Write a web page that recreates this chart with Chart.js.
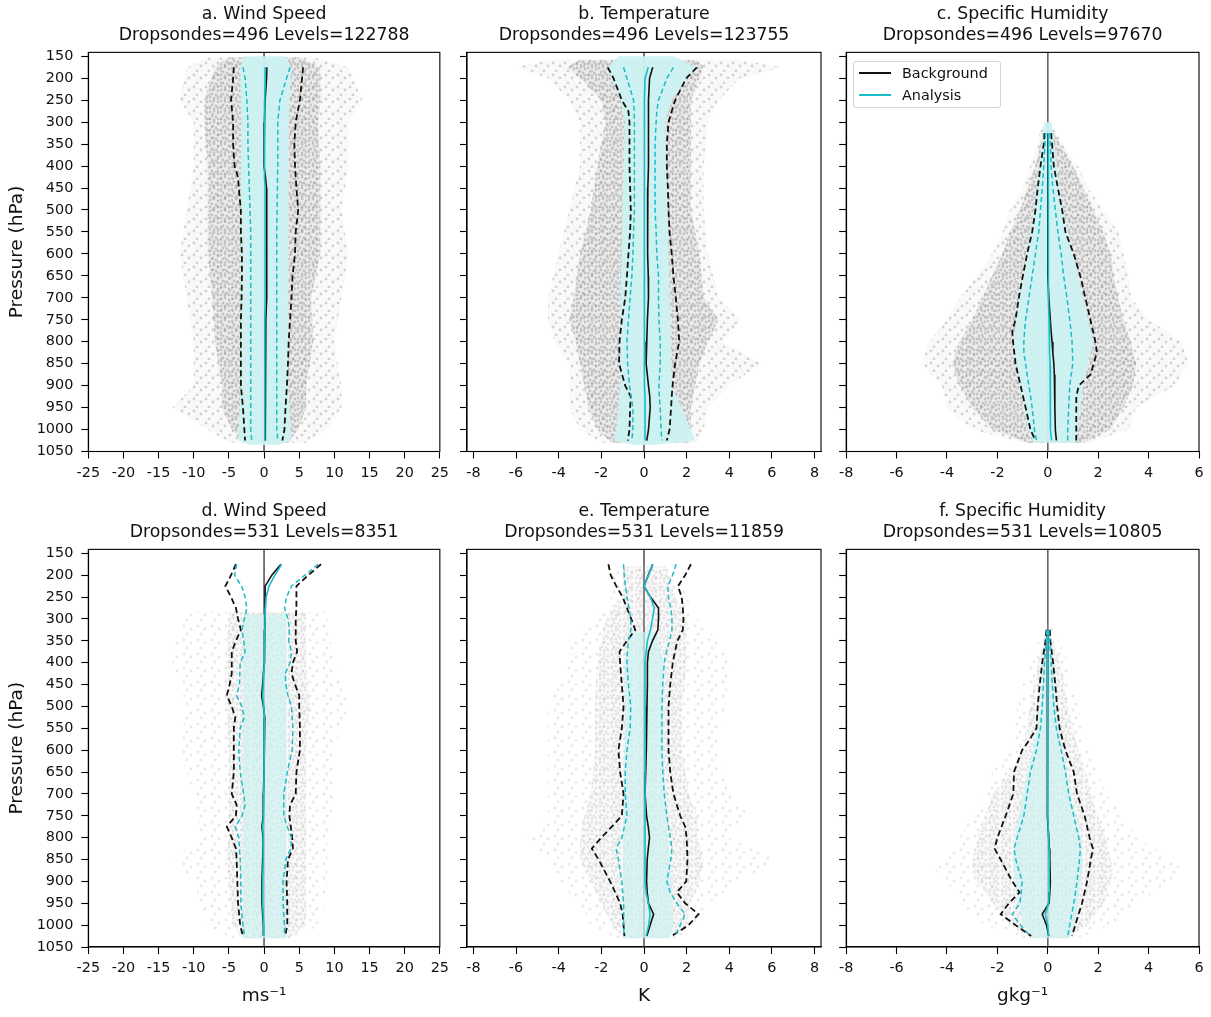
<!DOCTYPE html>
<html>
<head>
<meta charset="utf-8">
<script src="https://cdn.jsdelivr.net/npm/chart.js@4.4.1/dist/chart.umd.min.js"></script>
<style>
  body { margin: 0; background: #fff; }
  #wrap { position: relative; width: 1211px; height: 1017px; overflow: hidden; background: #fff; }
  #wrap canvas { position: absolute; }
  #legend { position: absolute; left: 853px; top: 61px; width: 146px; height: 45px; border: 1px solid #d4d4d4; border-radius: 3px; background: rgba(255,255,255,0.85); font: 14.4px 'DejaVu Sans'; color: #111; z-index: 5; }
  #legend .row { position: absolute; left: 0; height: 20px; width: 140px; }
  #legend .sw { position: absolute; left: 5px; top: 9px; width: 32px; height: 2px; }
  #legend .lt { position: absolute; left: 48px; top: 0; line-height: 20px; }
</style>
</head>
<body>
<div id="wrap">
  <canvas id="pa"></canvas><canvas id="pb"></canvas><canvas id="pc"></canvas>
  <canvas id="pd"></canvas><canvas id="pe"></canvas><canvas id="pf"></canvas>
  <div id="legend">
    <div class="row" style="top:1px"><span class="sw" style="background:#111"></span><span class="lt">Background</span></div>
    <div class="row" style="top:23px"><span class="sw" style="background:#1cbcc8"></span><span class="lt">Analysis</span></div>
  </div>
</div>
<script>
// axis ticks
const yTicks = [150, 200, 250, 300, 350, 400, 450, 500, 550, 600, 650, 700, 750, 800, 850, 900, 950, 1000, 1050];
const windTicks = [-25, -20, -15, -10, -5, 0, 5, 10, 15, 20, 25];
const tempTicks = [-8, -6, -4, -2, 0, 2, 4, 6, 8];
const humTicks = [-8, -6, -4, -2, 0, 2, 4, 6];

const panelNames = ['a. Wind Speed', 'b. Temperature', 'c. Specific Humidity', 'd. Wind Speed', 'e. Temperature', 'f. Specific Humidity'];
const sondeCounts = [496, 496, 496, 531, 531, 531];
const levelCounts = [122788, 123755, 97670, 8351, 11859, 10805];

// ---- panel a
const levA = [175, 200, 250, 300, 350, 400, 425, 450, 500, 550, 600, 650, 700, 750, 800, 850, 900, 950, 1000, 1025];
const bgMeanA = [0.4, 0.35, 0.15, 0.05, 0.0, 0.0, 0.2, 0.35, 0.4, 0.4, 0.4, 0.4, 0.3, 0.25, 0.15, 0.15, 0.15, 0.2, 0.25, 0.15];
const anMeanA = [0.2, 0.15, 0.1, 0.05, 0.05, 0.05, 0.1, 0.15, 0.15, 0.15, 0.15, 0.15, 0.15, 0.1, 0.1, 0.1, 0.1, 0.1, 0.1, 0.1];
const bgLoA = [-4.3, -4.4, -4.7, -4.4, -4.4, -4.2, -3.7, -3.6, -3.3, -3.3, -3.15, -3.15, -3.2, -3.3, -3.3, -3.3, -3.3, -3.0, -2.8, -2.7];
const bgHiA = [5.55, 5.4, 5.1, 4.5, 4.3, 4.4, 4.5, 4.6, 4.85, 4.5, 4.4, 4.05, 3.9, 3.7, 3.5, 3.4, 3.25, 3.05, 2.9, 2.6];
const anLoA = [-3.0, -2.7, -2.45, -2.3, -2.3, -2.2, -2.15, -2.1, -2.0, -1.9, -1.9, -1.9, -1.9, -1.9, -1.9, -1.9, -1.9, -1.9, -1.9, -1.75];
const anHiA = [3.7, 3.2, 2.25, 1.95, 1.95, 1.95, 1.9, 1.9, 1.85, 1.8, 1.8, 1.8, 1.8, 1.8, 1.8, 1.8, 1.8, 1.8, 1.8, 1.95];
const cloudPA = [152, 175, 250, 300, 400, 500, 600, 700, 800, 900, 950, 1000, 1030];
const outLoA = [-8, -11, -12, -10, -10, -11, -12, -11, -10, -10, -13, -8, -5];
const outHiA = [7, 12, 14, 12, 12, 11, 12, 11, 10, 11, 11, 9, 6];
const coreLoA = [-5, -7, -8.5, -8.5, -8, -8, -8, -7.4, -7, -6, -6, -4.6, -3];
const coreHiA = [5, 8, 8, 7.7, 8, 8, 8, 6.7, 7, 6, 6, 4.8, 3.5];
const bandPA = [150, 175, 300, 500, 700, 900, 1000, 1025, 1035];
const bandLoA = [-2.8, -3.4, -3.2, -3.3, -3.3, -3.3, -3.6, -3.6, -2];
const bandHiA = [3.0, 3.9, 3.5, 3.5, 3.4, 3.4, 3.8, 3.8, 2];

// ---- panel b
const levB = [175, 200, 250, 275, 300, 350, 400, 450, 500, 550, 600, 650, 700, 750, 800, 850, 900, 925, 950, 1000, 1025];
const bgMeanB = [0.41, 0.26, 0.21, 0.21, 0.21, 0.21, 0.21, 0.18, 0.16, 0.17, 0.18, 0.2, 0.21, 0.16, 0.13, 0.1, 0.21, 0.27, 0.29, 0.21, 0.13];
const anMeanB = [0.2, 0.05, 0.02, 0.02, 0.02, 0.02, 0.02, 0.02, 0.02, 0.02, 0.02, 0.02, 0.02, 0.02, 0.02, 0.02, 0.02, 0.05, 0.05, 0.05, 0.05];
const bgLoB = [-1.7, -1.43, -1.04, -0.73, -0.68, -0.68, -0.68, -0.65, -0.62, -0.65, -0.73, -0.8, -0.88, -1.04, -1.15, -1.17, -0.88, -0.62, -0.65, -0.68, -0.76];
const bgHiB = [2.48, 1.98, 1.46, 1.3, 1.15, 1.07, 1.07, 1.12, 1.15, 1.2, 1.3, 1.38, 1.49, 1.59, 1.65, 1.46, 1.34, 1.3, 1.27, 1.2, 1.07];
const anLoB = [-0.96, -0.8, -0.49, -0.46, -0.45, -0.45, -0.45, -0.45, -0.45, -0.49, -0.52, -0.57, -0.65, -0.73, -0.8, -0.77, -0.68, -0.6, -0.52, -0.52, -0.57];
const anHiB = [1.38, 1.07, 0.68, 0.6, 0.57, 0.52, 0.52, 0.52, 0.52, 0.57, 0.6, 0.68, 0.68, 0.7, 0.76, 0.76, 0.7, 0.72, 0.76, 0.8, 0.84];
const cloudPB = [158, 175, 200, 250, 300, 400, 500, 600, 700, 750, 800, 850, 900, 950, 1000, 1030];
const outLoB = [-4.5, -6, -4.5, -3.5, -3, -3, -3.5, -4, -4.5, -4.5, -4.2, -3.5, -3.5, -3.5, -3, -2];
const outHiB = [4.5, 6.5, 4.5, 3.5, 3, 2.8, 2.8, 3, 3.5, 4.5, 3.7, 5.5, 4, 3, 2.8, 2.5];
const coreLoB = [-3, -3.6, -3, -2, -1.8, -2.2, -2.5, -3, -3.3, -3.5, -3.2, -3, -2.8, -2.6, -2.2, -1.5];
const coreHiB = [2.5, 2.8, 2.6, 2.2, 2.2, 2.2, 2.2, 2.6, 2.8, 3.5, 3, 2.6, 2.4, 2.2, 2.2, 2];
const bandPB = [150, 175, 250, 300, 500, 700, 900, 1000, 1025, 1035];
const bandLoB = [-1.2, -1.7, -1.1, -0.9, -1.0, -1.1, -1.1, -1.3, -1.4, -0.5];
const bandHiB = [1.4, 2.4, 1.3, 1.0, 1.1, 1.2, 1.3, 2.2, 2.4, 0.5];

// ---- panel c
const levC = [325, 350, 400, 450, 500, 550, 600, 650, 700, 750, 775, 800, 825, 850, 875, 900, 925, 950, 1000, 1025];
const bgMeanC = [0, 0, 0, 0, 0, 0, 0, 0, 0.04, 0.1, 0.13, 0.17, 0.2, 0.24, 0.26, 0.28, 0.28, 0.28, 0.3, 0.34];
const anMeanC = [0.02, 0.02, 0.02, 0.02, 0.02, 0.02, 0.02, 0.03, 0.04, 0.05, 0.06, 0.07, 0.08, 0.09, 0.1, 0.1, 0.1, 0.1, 0.12, 0.15];
const bgLoC = [-0.13, -0.16, -0.29, -0.4, -0.49, -0.62, -0.82, -0.99, -1.15, -1.28, -1.41, -1.38, -1.33, -1.28, -1.18, -1.08, -0.98, -0.88, -0.69, -0.49];
const bgHiC = [0.13, 0.17, 0.24, 0.4, 0.57, 0.7, 1.03, 1.29, 1.49, 1.69, 1.79, 1.89, 1.95, 1.82, 1.69, 1.23, 1.13, 1.13, 1.13, 1.13];
const anLoC = [-0.09, -0.11, -0.16, -0.22, -0.29, -0.36, -0.49, -0.62, -0.75, -0.88, -0.92, -0.95, -0.95, -0.88, -0.82, -0.75, -0.68, -0.62, -0.53, -0.45];
const anHiC = [0.08, 0.1, 0.13, 0.2, 0.3, 0.4, 0.53, 0.63, 0.76, 0.87, 0.92, 0.96, 0.98, 0.99, 0.93, 0.87, 0.85, 0.83, 0.79, 0.79];
const cloudPC = [300, 320, 350, 400, 450, 500, 550, 600, 650, 700, 750, 800, 850, 900, 950, 1000, 1030];
const outLoC = [-0.1, -0.3, -0.4, -0.7, -1, -1.5, -1.8, -2.2, -2.8, -3.5, -4, -4.7, -5, -4.2, -4, -3, -1];
const outHiC = [0.1, 0.3, 0.6, 1.2, 1.6, 2.2, 2.8, 3, 3.2, 3.3, 4, 5.3, 5.6, 5, 3.5, 3.2, 1.6];
const coreLoC = [0, -0.2, -0.3, -0.5, -0.8, -1.1, -1.5, -1.8, -2.2, -2.6, -3, -3.5, -3.8, -3.5, -3, -2.2, -0.8];
const coreHiC = [0, 0.2, 0.5, 1, 1.4, 1.8, 2.2, 2.5, 2.6, 2.8, 3, 3.3, 3.5, 3.4, 3, 2.5, 1.4];
const bandPC = [300, 325, 400, 500, 600, 700, 800, 900, 1000, 1030];
const bandLoC = [-0.15, -0.2, -0.35, -0.55, -0.85, -1.15, -1.35, -1.1, -0.8, -0.5];
const bandHiC = [0.15, 0.2, 0.35, 0.6, 1.0, 1.4, 1.8, 1.4, 1.2, 1.1];

// ---- panel d
const levD = [175, 200, 225, 250, 275, 300, 325, 350, 375, 400, 425, 450, 475, 500, 525, 550, 600, 650, 700, 725, 750, 775, 800, 825, 850, 900, 950, 1000, 1025];
const bgMeanD = [2.4, 1.1, 0.15, 0.15, 0.15, 0.15, 0.1, 0.1, 0.05, 0, -0.1, -0.2, -0.35, -0.1, 0.1, 0, 0, 0, -0.1, -0.1, -0.15, -0.3, -0.15, -0.15, -0.2, -0.3, -0.3, -0.1, -0.1];
const anMeanD = [2.5, 1.55, 0.7, 0.3, 0.2, 0.15, 0.1, 0.1, 0.05, 0, -0.05, -0.1, -0.2, -0.05, 0.05, 0, 0, 0, -0.05, -0.05, -0.1, -0.2, -0.1, -0.1, -0.15, -0.2, -0.2, -0.05, -0.05];
const bgLoD = [-4.0, -4.7, -5.5, -4.7, -4.0, -3.7, -3.3, -4.0, -4.6, -4.6, -4.6, -4.9, -5.3, -4.6, -4.1, -4.3, -4.3, -4.3, -4.6, -3.9, -4.0, -5.3, -4.6, -4.0, -3.9, -3.8, -3.7, -3.4, -3.0];
const bgHiD = [8.1, 6.3, 4.6, 4.6, 4.6, 4.5, 4.5, 4.5, 4.7, 4.1, 3.9, 4.4, 5.0, 5.0, 5.05, 5.1, 5.1, 4.6, 4.5, 3.7, 3.6, 3.8, 4.0, 4.1, 3.4, 3.2, 3.3, 3.3, 3.0];
const anLoD = [-3.9, -4.2, -3.2, -2.7, -2.45, -2.8, -3.15, -2.9, -2.7, -3.4, -3.45, -3.5, -3.9, -3.2, -2.8, -3.4, -3.6, -3.4, -2.9, -2.7, -3.15, -4.1, -3.6, -3.5, -3.4, -3.3, -3.3, -3.0, -2.8];
const anHiD = [7.7, 5.8, 3.9, 3.2, 2.9, 3.4, 3.6, 3.5, 3.9, 3.7, 3.0, 3.1, 3.4, 3.9, 4.0, 4.1, 4.0, 3.3, 2.8, 2.8, 2.8, 3.3, 3.9, 3.8, 3.1, 2.7, 2.7, 2.9, 2.9];
const cloudPD = [285, 300, 400, 500, 600, 700, 800, 850, 900, 1000, 1030];
const outLoD = [-10, -12, -13, -11, -12, -10, -9, -13, -10, -8, -5];
const outHiD = [9, 9, 10, 12, 10, 10, 9, 9, 9, 8, 4];
const coreLoD = [-5, -5, -5.5, -5.5, -5, -5, -5, -5.5, -5, -4.5, -3];
const coreHiD = [6, 6, 6, 6.5, 6, 6, 6, 6, 6, 6, 3.5];
const bandPD = [290, 1030];
const bandLoD = [-3.0, -3.0];
const bandHiD = [3.2, 3.2];

// ---- panel e
const levE = [175, 200, 225, 250, 275, 300, 325, 350, 375, 400, 450, 500, 550, 600, 650, 700, 750, 775, 800, 825, 850, 900, 925, 950, 975, 1000, 1025];
const bgMeanE = [0.41, 0.2, 0.0, 0.3, 0.68, 0.68, 0.65, 0.4, 0.21, 0.16, 0.16, 0.14, 0.12, 0.1, 0.08, 0.05, 0.12, 0.2, 0.26, 0.2, 0.15, 0.12, 0.15, 0.21, 0.45, 0.29, 0.13];
const anMeanE = [0.4, 0.2, 0.0, 0.3, 0.48, 0.4, 0.3, 0.16, 0.1, 0.05, 0.05, 0.05, 0.05, 0.05, 0.05, 0.05, 0.05, 0.05, 0.05, 0.05, 0.05, 0.05, 0.1, 0.2, 0.29, 0.22, 0.1];
const bgLoE = [-1.67, -1.56, -1.3, -1.0, -0.8, -0.6, -0.41, -0.8, -1.15, -1.12, -1.04, -0.96, -1.04, -1.2, -1.12, -0.96, -1.04, -1.51, -2.0, -2.45, -2.13, -1.59, -1.35, -1.12, -1.0, -0.96, -0.92];
const bgHiE = [2.2, 1.93, 1.59, 1.77, 1.82, 1.85, 1.82, 1.57, 1.45, 1.35, 1.23, 1.15, 1.15, 1.15, 1.23, 1.38, 1.7, 1.93, 2.0, 2.02, 2.04, 1.98, 1.54, 1.93, 2.56, 2.09, 1.3];
const anLoE = [-0.96, -0.93, -0.87, -0.8, -0.7, -0.62, -0.62, -0.73, -0.78, -0.8, -0.73, -0.62, -0.65, -0.8, -0.88, -0.88, -0.8, -0.92, -1.04, -1.31, -1.2, -1.04, -1.0, -0.96, -0.95, -0.96, -0.93];
const anHiE = [1.51, 1.34, 1.12, 1.15, 1.25, 1.31, 1.31, 1.2, 1.05, 0.95, 0.88, 0.84, 0.84, 0.84, 0.88, 0.95, 1.07, 1.15, 1.23, 1.31, 1.26, 1.07, 1.23, 1.54, 1.93, 1.7, 1.46];
const cloudPE = [180, 250, 300, 350, 400, 500, 600, 700, 750, 800, 850, 900, 950, 1000, 1030];
const outLoE = [-1.5, -1.5, -2.5, -3.5, -3.5, -4.5, -4.5, -4.5, -4.5, -5.5, -4.5, -4, -3, -2.5, -1.5];
const outHiE = [1.5, 2, 2.5, 3.5, 4, 3.8, 3.5, 4, 5, 4, 6.2, 4.5, 3, 2.5, 1.5];
const coreLoE = [-1, -1, -1.8, -2, -2.2, -2.3, -2.3, -2.5, -2.8, -3, -3, -2.5, -2, -1.5, -1];
const coreHiE = [1, 1.5, 2, 2, 2, 1.8, 1.8, 2.1, 2.5, 2.5, 2.8, 2.6, 2.2, 2, 1.2];
const bandPE = [330, 400, 600, 800, 900, 1000, 1030];
const bandLoE = [-0.6, -0.9, -0.9, -1.0, -1.0, -1.0, -0.9];
const bandHiE = [0.6, 0.9, 0.9, 1.1, 1.3, 1.4, 1.2];

// ---- panel f
const levF = [325, 350, 400, 450, 500, 550, 575, 600, 650, 700, 750, 800, 825, 850, 900, 925, 950, 975, 1000, 1025];
const bgMeanF = [0, 0, 0, -0.02, -0.02, -0.02, -0.02, -0.02, -0.02, -0.02, -0.03, 0.04, 0.06, 0.08, 0.1, 0.08, 0.05, -0.22, -0.05, 0.04];
const anMeanF = [0, 0, 0, 0, 0, 0, 0, 0, 0, 0, 0, 0.03, 0.05, 0.05, 0.07, 0.05, 0.03, -0.1, 0, 0.03];
const bgLoF = [-0.05, -0.09, -0.22, -0.32, -0.4, -0.45, -0.71, -1.02, -1.34, -1.37, -1.67, -2.0, -2.11, -1.87, -1.41, -1.12, -1.54, -1.87, -1.28, -0.66];
const bgHiF = [0.08, 0.1, 0.21, 0.3, 0.37, 0.47, 0.58, 0.7, 1.03, 1.16, 1.46, 1.66, 1.79, 1.71, 1.56, 1.46, 1.36, 1.22, 1.09, 0.96];
const anLoF = [-0.03, -0.06, -0.13, -0.17, -0.22, -0.29, -0.37, -0.45, -0.69, -0.82, -0.95, -1.21, -1.34, -1.27, -1.02, -1.05, -1.11, -1.41, -1.08, -0.69];
const anHiF = [0.04, 0.07, 0.13, 0.18, 0.24, 0.34, 0.43, 0.53, 0.7, 0.83, 1.03, 1.23, 1.29, 1.26, 1.16, 1.1, 1.03, 0.95, 0.87, 0.79];
const cloudPF = [310, 330, 400, 500, 600, 650, 700, 750, 800, 850, 875, 900, 950, 1000, 1030];
const outLoF = [0, -0.2, -0.8, -1.2, -1.5, -2.2, -2.5, -3, -3.5, -4, -4.5, -4, -3.5, -2.5, -1];
const outHiF = [0, 0.3, 0.8, 1.2, 1.6, 2, 2.3, 3, 3.5, 5, 5.3, 5, 3.5, 2.5, 1.2];
const coreLoF = [0, -0.1, -0.4, -0.7, -1, -1.5, -2.2, -2.5, -2.8, -3, -3, -2.8, -2.2, -1.5, -0.7];
const coreHiF = [0, 0.1, 0.5, 0.8, 1.2, 1.5, 1.7, 2, 2.3, 2.5, 2.6, 2.5, 2.2, 1.6, 0.8];
const bandPF = [330, 400, 500, 600, 700, 800, 850, 900, 1000, 1030];
const bandLoF = [-0.1, -0.2, -0.3, -0.6, -1.0, -1.3, -1.4, -1.3, -1.0, -0.5];
const bandHiF = [0.1, 0.25, 0.35, 0.6, 0.9, 1.3, 1.4, 1.3, 1.1, 0.8];

const CYAN = '#1cbcc8';
const INK = '#111';
const FONT = "'DejaVu Sans'";

const panels = [
  { id: 'pa', left: 0, top: 0, w: 455, h: 497, yw: 88.3, xh: 45.5, xmin: -25, xmax: 25, xt: windTicks, ylab: true, xlab: '', topRow: true,
    lev: levA, bgMean: bgMeanA, anMean: anMeanA, bgLo: bgLoA, bgHi: bgHiA, anLo: anLoA, anHi: anHiA,
    cloudP: cloudPA, outLo: outLoA, outHi: outHiA, coreLo: coreLoA, coreHi: coreHiA, bandP: bandPA, bandLo: bandLoA, bandHi: bandHiA },
  { id: 'pb', left: 455, top: 0, w: 378, h: 497, yw: 12, xh: 45.5, xmin: -8.3, xmax: 8.3, xt: tempTicks, ylab: false, xlab: '', topRow: true,
    lev: levB, bgMean: bgMeanB, anMean: anMeanB, bgLo: bgLoB, bgHi: bgHiB, anLo: anLoB, anHi: anHiB,
    cloudP: cloudPB, outLo: outLoB, outHi: outHiB, coreLo: coreLoB, coreHi: coreHiB, bandP: bandPB, bandLo: bandLoB, bandHi: bandHiB },
  { id: 'pc', left: 833, top: 0, w: 378, h: 497, yw: 12, xh: 45.5, xmin: -8, xmax: 6, xt: humTicks, ylab: false, xlab: '', topRow: true,
    lev: levC, bgMean: bgMeanC, anMean: anMeanC, bgLo: bgLoC, bgHi: bgHiC, anLo: anLoC, anHi: anHiC,
    cloudP: cloudPC, outLo: outLoC, outHi: outHiC, coreLo: coreLoC, coreHi: coreHiC, bandP: bandPC, bandLo: bandLoC, bandHi: bandHiC },
  { id: 'pd', left: 0, top: 497, w: 455, h: 520, yw: 88.3, xh: 70, xmin: -25, xmax: 25, xt: windTicks, ylab: true, xlab: 'ms\u207B\u00B9', topRow: false,
    lev: levD, bgMean: bgMeanD, anMean: anMeanD, bgLo: bgLoD, bgHi: bgHiD, anLo: anLoD, anHi: anHiD,
    cloudP: cloudPD, outLo: outLoD, outHi: outHiD, coreLo: coreLoD, coreHi: coreHiD, bandP: bandPD, bandLo: bandLoD, bandHi: bandHiD },
  { id: 'pe', left: 455, top: 497, w: 378, h: 520, yw: 12, xh: 70, xmin: -8.3, xmax: 8.3, xt: tempTicks, ylab: false, xlab: 'K', topRow: false,
    lev: levE, bgMean: bgMeanE, anMean: anMeanE, bgLo: bgLoE, bgHi: bgHiE, anLo: anLoE, anHi: anHiE,
    cloudP: cloudPE, outLo: outLoE, outHi: outHiE, coreLo: coreLoE, coreHi: coreHiE, bandP: bandPE, bandLo: bandLoE, bandHi: bandHiE },
  { id: 'pf', left: 833, top: 497, w: 378, h: 520, yw: 12, xh: 70, xmin: -8, xmax: 6, xt: humTicks, ylab: false, xlab: 'gkg\u207B\u00B9', topRow: false,
    lev: levF, bgMean: bgMeanF, anMean: anMeanF, bgLo: bgLoF, bgHi: bgHiF, anLo: anLoF, anHi: anHiF,
    cloudP: cloudPF, outLo: outLoF, outHi: outHiF, coreLo: coreLoF, coreHi: coreHiF, bandP: bandPF, bandLo: bandLoF, bandHi: bandHiF }
];

// speckle fills that stand in for the dense dropsonde point clouds
function speckle(size, dots, dotColor, base) {
  const c = document.createElement('canvas');
  c.width = size;
  c.height = size;
  const g = c.getContext('2d');
  if (base) {
    g.fillStyle = base;
    g.fillRect(0, 0, size, size);
  }
  g.fillStyle = dotColor;
  dots.forEach(([x, y]) => {
    g.beginPath();
    g.arc(x, y, 1.4, 0, Math.PI * 2);
    g.fill();
  });
  return g.createPattern(c, 'repeat');
}
const denseDots = [[1, 2], [5, 1], [9, 3], [3, 6], [7, 7], [1, 9], [5, 10], [9, 9]];
const sparseDots = [[2, 3], [9, 6], [5, 11]];

// box around the plot area (matplotlib style spines)
const framePlugin = {
  id: 'frame',
  afterDatasetsDraw(chart) {
    const { ctx, chartArea: a } = chart;
    ctx.save();
    ctx.strokeStyle = '#000';
    ctx.lineWidth = 1.1;
    ctx.strokeRect(a.left, a.top, a.right - a.left, a.bottom - a.top);
    ctx.restore();
  }
};

function pts(P, X) {
  return P.map((p, i) => ({ x: X[i], y: p }));
}

function polygon(P, lo, hi) {
  return pts(P, lo).concat(pts(P, hi).reverse());
}

panels.forEach((p, k) => {
  const cv = document.getElementById(p.id);
  cv.width = p.w;
  cv.height = p.h;
  cv.style.left = p.left + 'px';
  cv.style.top = p.top + 'px';

  const outFill = p.topRow ? speckle(12, sparseDots, 'rgba(120,120,120,0.30)', 'rgba(200,200,200,0.10)')
                           : speckle(14, sparseDots, 'rgba(150,150,150,0.22)', null);
  const coreFill = p.topRow ? speckle(11, denseDots, 'rgba(110,110,110,0.32)', 'rgba(190,190,190,0.22)')
                            : speckle(12, denseDots, 'rgba(150,150,150,0.22)', 'rgba(215,215,215,0.12)');
  const bandColor = p.topRow ? 'rgba(205,244,244,0.92)' : 'rgba(205,242,242,0.7)';

  const datasets = [
    { data: pts(p.lev, p.anHi), borderColor: CYAN, borderWidth: 1.5, borderDash: [5, 3] },
    { data: pts(p.lev, p.anLo), borderColor: CYAN, borderWidth: 1.5, borderDash: [5, 3] },
    { data: pts(p.lev, p.anMean), borderColor: CYAN, borderWidth: 1.6 },
    { data: pts(p.lev, p.bgHi), borderColor: '#111', borderWidth: 1.8, borderDash: [6, 3.5] },
    { data: pts(p.lev, p.bgLo), borderColor: '#111', borderWidth: 1.8, borderDash: [6, 3.5] },
    { data: pts(p.lev, p.bgMean), borderColor: '#111', borderWidth: 1.6 },
    { data: polygon(p.bandP, p.bandLo, p.bandHi), fill: 'shape', backgroundColor: bandColor, borderWidth: 0 },
    { data: polygon(p.cloudP, p.coreLo, p.coreHi), fill: 'shape', backgroundColor: coreFill, borderWidth: 0 },
    { data: polygon(p.cloudP, p.outLo, p.outHi), fill: 'shape', backgroundColor: outFill, borderWidth: 0 },
    { data: [{ x: 0, y: 141 }, { x: 0, y: 1050 }], borderColor: '#666', borderWidth: 1 }
  ];
  datasets.forEach(d => {
    d.showLine = true;
    d.pointRadius = 0;
    d.tension = 0;
    if (d.fill === undefined) d.fill = false;
  });

  const tickFont = { family: FONT, size: 14.4, weight: 'normal', lineHeight: 1.2 };

  new Chart(cv, {
    type: 'scatter',
    data: { datasets },
    plugins: [framePlugin],
    options: {
      responsive: false,
      animation: false,
      events: [],
      layout: { padding: { left: 0, right: p.w - p.yw - (p.id === 'pa' || p.id === 'pd' ? 354.7 : 354), top: 0, bottom: 0 } },
      plugins: {
        legend: { display: false },
        tooltip: { enabled: false },
        title: {
          display: true,
          text: [panelNames[k], 'Dropsondes=' + sondeCounts[k] + ' Levels=' + levelCounts[k]],
          color: INK,
          fullSize: false,
          font: { family: FONT, size: 17.3, weight: 'normal', lineHeight: 1.21 },
          padding: { top: 4, bottom: 6.5 }
        }
      },
      scales: {
        x: {
          type: 'linear',
          min: p.xmin,
          max: p.xmax,
          afterBuildTicks: s => { s.ticks = p.xt.map(v => ({ value: v })); },
          afterFit: s => { s.height = p.xh; },
          grid: { drawOnChartArea: false, drawTicks: true, tickLength: 7, tickColor: '#000', tickWidth: 1.1 },
          border: { display: true, color: '#000', width: 1.1 },
          ticks: { color: INK, font: tickFont, padding: 6, maxRotation: 0, autoSkip: false, callback: v => String(v) },
          title: { display: !!p.xlab, text: p.xlab, color: INK, font: { family: FONT, size: 18.5 }, padding: { top: 0, bottom: 10 } }
        },
        y: {
          type: 'linear',
          reverse: true,
          min: 141,
          max: 1050,
          afterBuildTicks: s => { s.ticks = yTicks.map(v => ({ value: v })); },
          afterFit: s => { s.width = p.yw; },
          grid: { drawOnChartArea: false, drawTicks: true, tickLength: 7, tickColor: '#000', tickWidth: 1.1 },
          border: { display: true, color: '#000', width: 1.1 },
          ticks: { color: INK, font: tickFont, padding: 8, autoSkip: false, callback: v => (p.ylab ? String(v) : '') },
          title: { display: p.ylab, text: 'Pressure (hPa)', color: INK, font: { family: FONT, size: 18.5 }, padding: { top: 6, bottom: 0 } }
        }
      }
    }
  });
});
</script>
</body>
</html>
